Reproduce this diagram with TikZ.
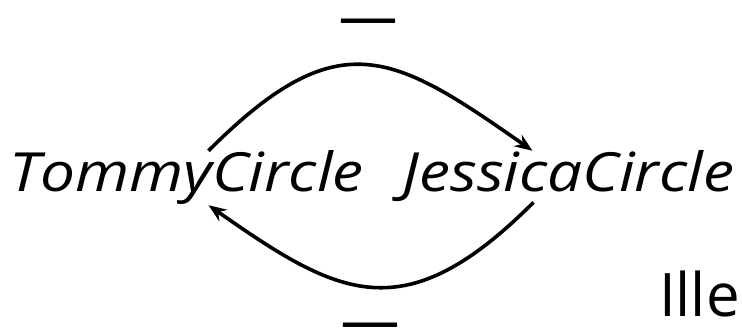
\documentclass[tikz,border=0pt]{standalone}
\usepackage{fontspec}
\setmainfont{Open Sans}
\usetikzlibrary{arrows.meta,calc}
\begin{document}
\begin{tikzpicture}[x=1pt,y=-1pt,
  lbl/.style={inner sep=0pt,font=\fontsize{54}{64}\selectfont\itshape},
  sign/.style={inner sep=0pt,font=\fontsize{55}{66}\selectfont},
  conn/.style={line width=3.6pt,-{Stealth[length=18pt,width=14pt,inset=6pt]}}]
\useasboundingbox (0,0) rectangle (742,328);
\node[lbl,anchor=base] (tommy) at (186.5,192) {\scalebox{1.15}[1]{TommyCircle}};
\node[lbl,anchor=base] (jessica) at (568.5,192) {\scalebox{1.15}[1]{JessicaCircle}};
\node[sign] (top) at (368.5,31.5) {\scalebox{2.1}[1.2]{−}};
\node[sign] (bot) at (370.5,335.5) {\scalebox{2.1}[1.2]{−}};
\node[inner sep=0pt,anchor=base east,font=\fontsize{60}{72}\selectfont] (ille) at (740,317) {Ille};
\coordinate (t1) at ($(tommy.north)+(22,0)$);
\coordinate (j1) at ($(jessica.north)+(-36,0)$);
\coordinate (j2) at ($(jessica.south)+(-35,0)$);
\coordinate (t2) at ($(tommy.south)+(22,0)$);
\draw[conn] (t1) .. controls ($(t1)+(130,-130)$) and ($(j1)+(-140,-98)$) .. (j1);
\draw[conn] (j2) .. controls ($(j2)+(-130,130)$) and ($(t2)+(130,91)$) .. (t2);
\end{tikzpicture}
\end{document}
